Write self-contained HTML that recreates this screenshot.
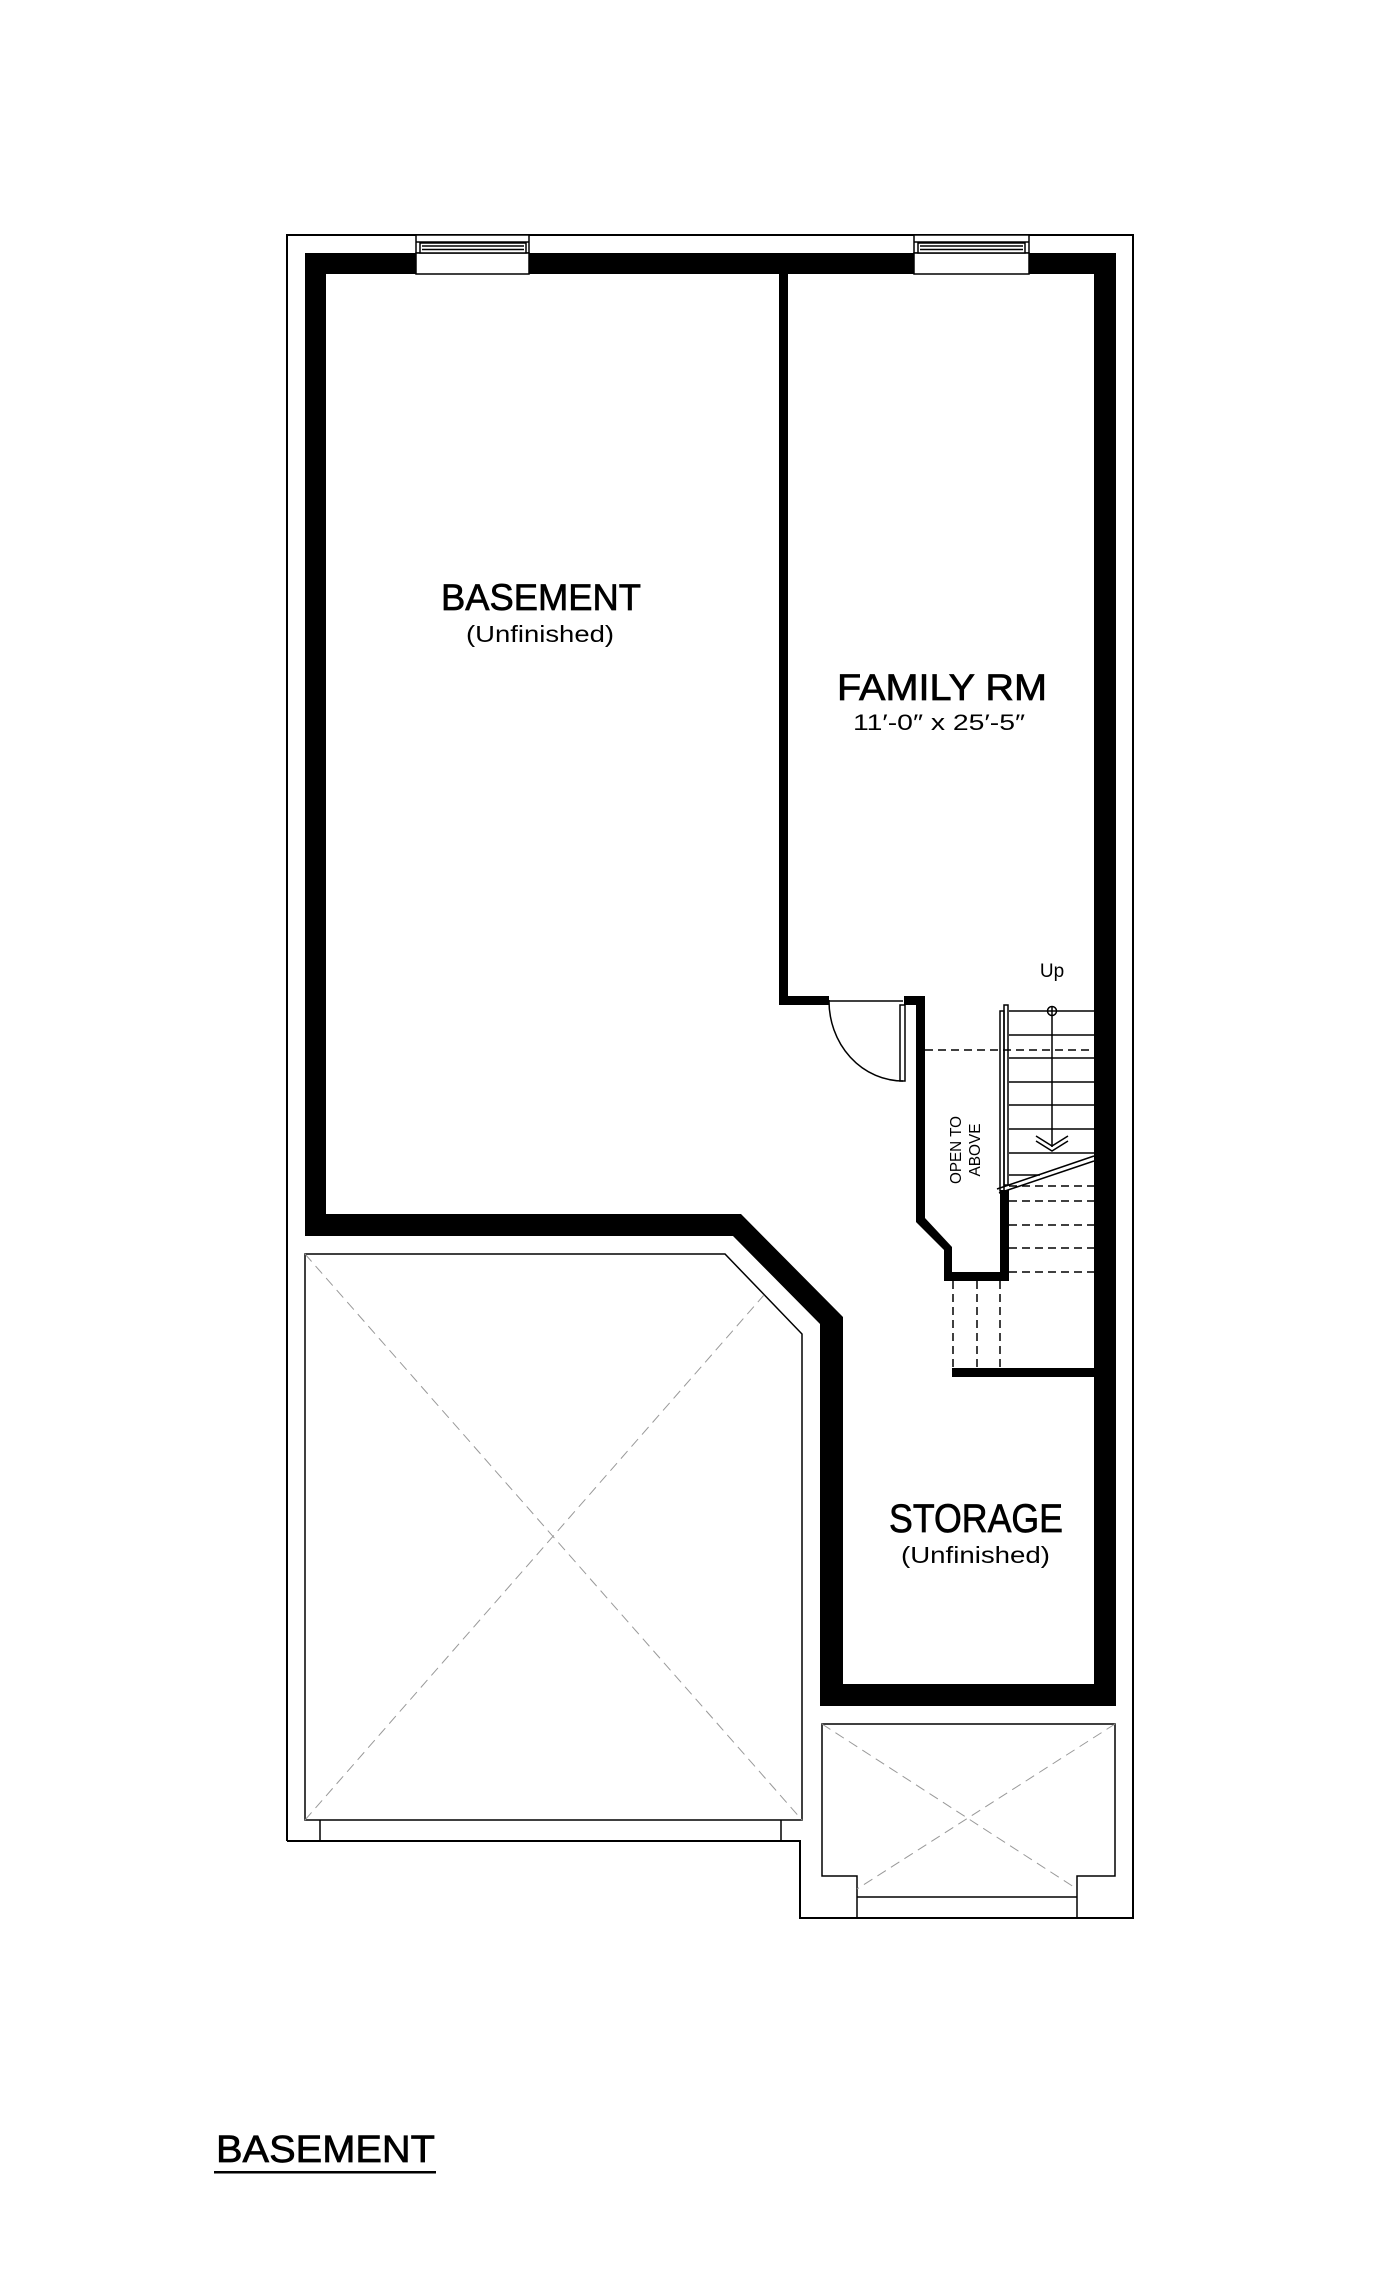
<!DOCTYPE html>
<html><head><meta charset="utf-8"><style>html,body{margin:0;padding:0;background:#fff}svg{display:block}</style></head>
<body>
<svg width="1400" height="2277" viewBox="0 0 1400 2277" xmlns="http://www.w3.org/2000/svg" font-family="Liberation Sans, sans-serif">
<rect width="1400" height="2277" fill="#fff"/>
<!-- outer line -->
<polyline points="287,1841 287,235 1133,235 1133,1918 800,1918 800,1841 287,1841" fill="none" stroke="#000" stroke-width="2"/>
<!-- top wall -->
<rect x="305" y="253" width="811" height="21" fill="#000"/>
<!-- left wall -->
<rect x="305" y="253" width="21" height="983" fill="#000"/>
<!-- right wall -->
<rect x="1094" y="253" width="22" height="1453" fill="#000"/>
<!-- basement bottom wall with diagonal -->
<polygon points="305,1214 741,1214 843,1317 843,1706 820,1706 820,1324 733,1236 305,1236" fill="#000"/>
<!-- storage bottom wall -->
<rect x="820" y="1684" width="296" height="22" fill="#000"/>
<!-- interior family wall -->
<rect x="779" y="253" width="9" height="752" fill="#000"/>
<rect x="779" y="996" width="50" height="9" fill="#000"/>
<!-- stair wall -->
<polygon points="904,996 925,996 925,1218 952,1247 952,1272 1000,1272 1000,1190 1009,1190 1009,1281 944,1281 944,1250 916,1222 916,1005 904,1005" fill="#000"/>
<rect x="952" y="1368" width="142" height="9" fill="#000"/>
<!-- windows -->
<g fill="#fff" stroke="#000" stroke-width="1.5">
<rect x="416" y="235" width="113" height="18"/><rect x="416" y="253" width="113" height="21"/>
<rect x="420" y="243" width="106" height="10"/>
<rect x="914" y="235" width="115" height="18"/><rect x="914" y="253" width="115" height="21"/>
<rect x="918" y="243" width="107" height="10"/>
</g>
<g stroke="#000" stroke-width="1.5">
<line x1="416" y1="242" x2="529" y2="242"/><line x1="422" y1="246" x2="524" y2="246"/><line x1="422" y1="249.5" x2="524" y2="249.5"/>
<line x1="914" y1="242" x2="1029" y2="242"/><line x1="920" y1="246" x2="1023" y2="246"/><line x1="920" y1="249.5" x2="1023" y2="249.5"/>
</g>
<!-- door -->
<g fill="none" stroke="#000" stroke-width="1.5">
<path d="M829,1000 A74,80 0 0 0 903,1081"/>
<line x1="829" y1="1001" x2="903" y2="1001"/>
<rect x="900" y="1005" width="5" height="76"/>
</g>
<!-- stairs -->
<g stroke="#000" stroke-width="1.5" fill="none">
<line x1="1009" y1="1011" x2="1094" y2="1011"/>
<line x1="1009" y1="1035" x2="1094" y2="1035"/>
<line x1="1009" y1="1058" x2="1094" y2="1058"/>
<line x1="1009" y1="1082" x2="1094" y2="1082"/>
<line x1="1009" y1="1105" x2="1094" y2="1105"/>
<line x1="1009" y1="1129" x2="1094" y2="1129"/>
<line x1="1009" y1="1153" x2="1094" y2="1153"/>
<line x1="1009" y1="1175" x2="1040" y2="1175"/>
<rect x="1000" y="1011" width="4" height="180"/>
<rect x="1004" y="1005" width="4" height="180"/>
<line x1="997" y1="1189" x2="1094" y2="1156"/>
<line x1="999" y1="1193" x2="1094" y2="1161"/>
<circle cx="1052" cy="1011" r="4.5"/>
<line x1="1052" y1="1006" x2="1052" y2="1147"/>
<polyline points="1036,1136 1052,1146 1068,1136"/>
<polyline points="1036,1141 1052,1151 1068,1141"/>
</g>
<g stroke="#000" stroke-width="1.5" stroke-dasharray="8,5">
<line x1="925" y1="1050" x2="1094" y2="1050"/>
<line x1="1009" y1="1186" x2="1094" y2="1186"/>
<line x1="1009" y1="1201" x2="1094" y2="1201"/>
<line x1="1009" y1="1225" x2="1094" y2="1225"/>
<line x1="1009" y1="1248" x2="1094" y2="1248"/>
<line x1="1009" y1="1272" x2="1094" y2="1272"/>
<line x1="953" y1="1281" x2="953" y2="1368"/>
<line x1="977" y1="1281" x2="977" y2="1368"/>
<line x1="1000" y1="1281" x2="1000" y2="1368"/>
</g>
<text x="1052" y="977" font-size="19" text-anchor="middle">Up</text>
<text transform="translate(961,1150) rotate(-90)" font-size="16" text-anchor="middle" textLength="68" lengthAdjust="spacingAndGlyphs">OPEN TO</text>
<text transform="translate(980,1150) rotate(-90)" font-size="16" text-anchor="middle" textLength="53" lengthAdjust="spacingAndGlyphs">ABOVE</text>
<!-- garage -->
<polygon points="305,1254 725,1254 802,1334 802,1820 305,1820" fill="none" stroke="#000" stroke-width="1.5"/>
<line x1="320" y1="1820" x2="320" y2="1841" stroke="#000" stroke-width="1.5"/>
<line x1="781" y1="1820" x2="781" y2="1841" stroke="#000" stroke-width="1.5"/>
<g stroke="#999" stroke-width="1" stroke-dasharray="10,6">
<line x1="305" y1="1254" x2="802" y2="1820"/>
<line x1="305" y1="1820" x2="764" y2="1295"/>
</g>
<!-- porch -->
<polyline points="857,1918 857,1876 822,1876 822,1724 1115,1724 1115,1876 1077,1876 1077,1918" fill="none" stroke="#000" stroke-width="1.5"/>
<line x1="857" y1="1897" x2="1077" y2="1897" stroke="#000" stroke-width="1.5"/>
<g stroke="#999" stroke-width="1" stroke-dasharray="10,6">
<line x1="822" y1="1724" x2="1077" y2="1889"/>
<line x1="1115" y1="1724" x2="857" y2="1889"/>
</g>
<!-- labels -->
<g stroke="#000" stroke-width="0.7">
<text x="441" y="610" font-size="37" textLength="200" lengthAdjust="spacingAndGlyphs">BASEMENT</text>
<text x="837" y="700" font-size="37" textLength="210" lengthAdjust="spacingAndGlyphs">FAMILY RM</text>
<text x="889" y="1532" font-size="40" textLength="174" lengthAdjust="spacingAndGlyphs">STORAGE</text>
<text x="216" y="2162" font-size="38" textLength="219" lengthAdjust="spacingAndGlyphs">BASEMENT</text>
</g>
<text x="466" y="642" font-size="23" textLength="148" lengthAdjust="spacingAndGlyphs">(Unfinished)</text>
<text x="853" y="730" font-size="22" textLength="172" lengthAdjust="spacingAndGlyphs">11′-0″ x 25′-5″</text>
<text x="901" y="1563" font-size="23" textLength="149" lengthAdjust="spacingAndGlyphs">(Unfinished)</text>
<rect x="214" y="2171" width="222" height="2.5" fill="#000"/>
</svg>
</body></html>
